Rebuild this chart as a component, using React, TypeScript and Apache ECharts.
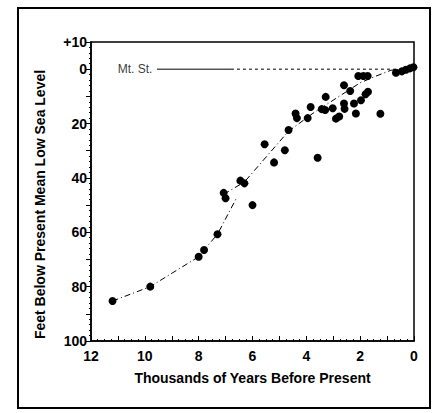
import React, { useEffect, useRef } from "react";
import * as echarts from "echarts";

// Observations: [thousands of years before present, feet below present mean low sea level]
const samplePoints: [number, number][] = [
  [11.2, 85.3], [9.8, 80], [8.0, 69], [7.8, 66.5], [7.3, 60.7],
  [7.07, 45.5], [7.0, 47.5], [6.45, 41], [6.3, 42], [6.0, 50],
  [5.55, 27.6], [5.2, 34.3], [4.8, 29.8], [4.66, 22.4], [4.4, 16.3],
  [4.35, 18], [3.95, 18], [3.84, 13.9], [3.58, 32.6], [3.43, 14.7],
  [3.3, 15], [3.28, 10.2], [3.02, 14.4], [2.9, 18.2], [2.78, 17.4],
  [2.6, 12.6], [2.58, 14.6], [2.6, 5.9], [2.37, 8], [2.23, 12.6],
  [2.16, 16.3], [1.97, 11.4], [1.8, 9.2], [1.71, 8.3], [2.07, 2.5],
  [1.88, 2.5], [1.72, 2.5], [1.25, 16.4], [0.67, 1.3], [0.45, 0.8],
  [0.3, 0.2], [0.15, -0.3], [0.02, -0.7],
];

// Lower trend segment
const trendLower: [number, number][] = [
  [11.2, 85.3], [9.8, 80], [8.0, 69], [7.8, 66.5], [7.3, 60.7], [6.6, 47.5],
];

// Upper trend segment
const trendUpper: [number, number][] = [
  [7.07, 46], [6.3, 41.5], [4.66, 22.8], [3.75, 16.2], [2.0, 5], [1.5, 2.9], [0.86, 0.4], [0, -0.3],
];

// Mean low sea level reference ("Mt. St.")
const mslSolid: [number, number][] = [[9.55, 0], [6.8, 0]];
const mslDotted: [number, number][] = [[6.8, 0], [0, 0]];
const mslLabel = "Mt. St.";

const xTickLabels = [0, 2, 4, 6, 8, 10, 12];
const yTickLabels = [-10, 0, 20, 40, 60, 80, 100];

const FONT = "'Liberation Sans', Arial, sans-serif";

export default function App() {
  const ref = useRef<HTMLDivElement>(null);

  useEffect(() => {
    if (!ref.current) return;
    const chart = echarts.init(ref.current, undefined, { renderer: "svg" });
    chart.setOption({
      animation: false,
      backgroundColor: "#ffffff",
      grid: {
        left: 91,
        right: 28,
        top: 42,
        bottom: 72,
        show: true,
        borderColor: "#000",
        borderWidth: 1.5,
        backgroundColor: "transparent",
      },
      graphic: [
        {
          type: "rect",
          shape: { x: 18, y: 8, width: 412, height: 400 },
          style: { fill: "none", stroke: "#000", lineWidth: 2 },
          silent: true,
        },
      ],
      xAxis: {
        type: "value",
        inverse: true,
        min: 0,
        max: 12,
        interval: 1,
        name: "Thousands of Years Before Present",
        nameLocation: "middle",
        nameGap: 30,
        nameTextStyle: { fontFamily: FONT, fontWeight: "bold", fontSize: 14, color: "#000" },
        axisLine: { show: true, onZero: false, lineStyle: { color: "#000", width: 1.5 } },
        axisTick: { show: true, inside: true, length: 5, lineStyle: { color: "#000", width: 1 } },
        minorTick: { show: true, splitNumber: 4, length: 2, lineStyle: { color: "#000" } },
        splitLine: { show: false },
        axisLabel: {
          fontFamily: FONT,
          fontWeight: "bold",
          fontSize: 14,
          color: "#000",
          margin: 8,
          formatter: (v: number) => (xTickLabels.includes(v) ? String(v) : ""),
        },
      },
      yAxis: {
        type: "value",
        inverse: true,
        min: -10,
        max: 100,
        interval: 10,
        name: "Feet Below Present Mean Low Sea Level",
        nameLocation: "middle",
        nameGap: 44,
        nameRotate: 90,
        nameTextStyle: {
          fontFamily: FONT,
          fontWeight: "bold",
          fontSize: 14,
          color: "#000",
          padding: [0, 26, 0, 0],
        },
        axisLine: { show: true, onZero: false, lineStyle: { color: "#000", width: 1.5 } },
        axisTick: { show: true, inside: false, length: 5, lineStyle: { color: "#000", width: 1 } },
        minorTick: { show: true, splitNumber: 5, length: 2, lineStyle: { color: "#000" } },
        splitLine: { show: false },
        axisLabel: {
          fontFamily: FONT,
          fontWeight: "bold",
          fontSize: 14,
          color: "#000",
          margin: 4,
          formatter: (v: number) =>
            yTickLabels.includes(v) ? (v < 0 ? "+" + Math.abs(v) : String(v)) : "",
        },
      },
      series: [
        {
          type: "line",
          data: trendLower,
          symbol: "none",
          lineStyle: { color: "#000", width: 1, type: [6, 3, 1, 3] },
          z: 2,
        },
        {
          type: "line",
          data: trendUpper,
          symbol: "none",
          lineStyle: { color: "#000", width: 1, type: [6, 3, 1, 3] },
          z: 2,
        },
        {
          type: "line",
          data: mslSolid,
          symbol: "none",
          lineStyle: { color: "#000", width: 1, type: "solid" },
          z: 1,
        },
        {
          type: "line",
          data: mslDotted,
          symbol: "none",
          lineStyle: { color: "#000", width: 1, type: [3, 3] },
          z: 1,
        },
        {
          type: "scatter",
          data: [mslSolid[0]],
          symbol: "circle",
          symbolSize: 1,
          itemStyle: { color: "rgba(0,0,0,0)" },
          label: {
            show: true,
            position: "left",
            formatter: mslLabel,
            fontFamily: FONT,
            fontSize: 12,
            color: "#000",
            distance: 4,
          },
          z: 1,
        },
        {
          type: "scatter",
          data: samplePoints,
          symbol: "circle",
          symbolSize: 8,
          itemStyle: { color: "#000", opacity: 1 },
          z: 3,
        },
      ],
    });
    return () => chart.dispose();
  }, []);

  return (
    <div
      ref={ref}
      style={{ position: "fixed", left: 0, top: 0, width: 442, height: 413 }}
    />
  );
}
